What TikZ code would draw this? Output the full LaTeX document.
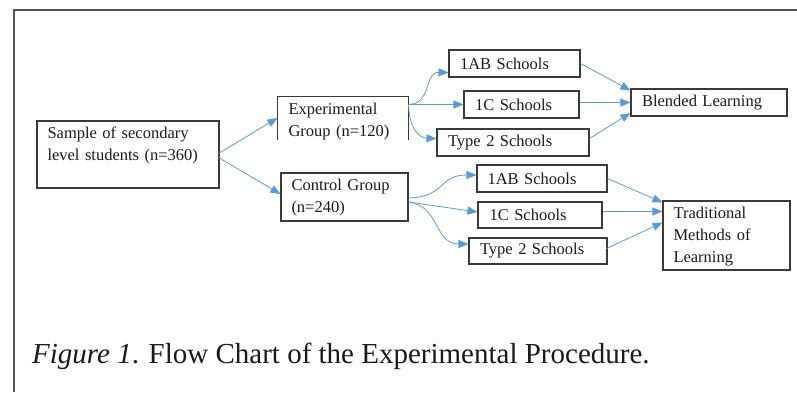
\documentclass[tikz,border=0pt]{standalone}
\usepackage{fontspec}
\setmainfont{Liberation Serif}
\usetikzlibrary{arrows.meta,calc}
\definecolor{boxc}{HTML}{3A3A3A}
\definecolor{framec}{HTML}{555555}
\definecolor{arrc}{HTML}{5B9BD5}
\definecolor{txt}{HTML}{1A1A1A}
\newcommand{\boxfont}{\fontsize{16.5pt}{22pt}\selectfont}
\newcommand{\capfont}{\fontsize{29pt}{34pt}\selectfont}
\tikzset{
  box/.style={draw=boxc, line width=1.05pt, inner xsep=10.5pt, inner ysep=0pt, align=left, font=\boxfont, text=txt},
  lbl/.style={inner xsep=0pt, inner ysep=0pt, align=left, font=\boxfont, text=txt},
  flow/.style={draw=arrc, line width=0.8pt, -{Triangle[length=10pt,width=8pt]}},
  frameline/.style={draw=framec, line width=1.5pt},
}
\begin{document}
\begin{tikzpicture}[x=1pt,y=-1pt]
\useasboundingbox (0,0) rectangle (797,392);
\draw[frameline] (14,392) -- (14,10) -- (797,10);

\node[box, minimum width=182pt, minimum height=67pt] (sample) at (128,154.5) {};
\node[lbl, text width=161pt] (sampletxt) at ($(sample.center)+(0,3)$) {Sample of secondary\\level students (n=360)\\\strut};

\node[box, draw=none, minimum width=130pt, minimum height=42pt] (exp) at (343,118) {};
\draw[draw=boxc, line width=1.05pt] (exp.south west) -- (exp.north west) -- (exp.north east) -- (exp.south east);
\node[lbl, text width=109pt] (exptxt) at ($(exp.center)+(0,3.5)$) {Experimental\\Group (n=120)};

\node[box, minimum width=127pt, minimum height=48pt] (ctrl) at (344.5,197) {};
\node[lbl, text width=106pt] (ctrltxt) at ($(ctrl.center)+(0,1)$) {Control Group\\(n=240)};

\node[box, minimum width=131pt, minimum height=27pt, text width=109pt] (e1ab) at (514.5,63.5) {1AB Schools};
\node[box, minimum width=115pt, minimum height=27pt, text width=93pt] (e1c) at (521.5,104.5) {1C Schools};
\node[box, minimum width=152pt, minimum height=27pt, text width=130pt] (e2) at (513,142.5) {Type 2 Schools};
\node[box, minimum width=156pt, minimum height=27pt, text width=134pt] (blend) at (709,102.5) {Blended Learning};

\node[box, minimum width=130pt, minimum height=27pt, text width=109pt] (c1ab) at (542,178.5) {1AB Schools};
\node[box, minimum width=124pt, minimum height=26pt, text width=101pt] (c1c) at (540,215) {1C Schools};
\node[box, minimum width=138pt, minimum height=26pt, text width=116pt] (c2) at (538,251) {Type 2 Schools};

\node[box, minimum width=127pt, minimum height=69pt] (trad) at (726.5,235.5) {};
\node[lbl, text width=106pt] (tradtxt) at ($(trad.center)+(0,1)$) {Traditional\\Methods of\\Learning};

% first level
\draw[flow] ($(sample.east)+(-1,-1)$) -- (exp.west);
\draw[flow] ($(sample.east)+(-1,3)$) -- ($(ctrl.west)+(0,-3)$);

% experimental branches
\coordinate (es) at ($(exp.north east)+(0,8)$);
\draw[flow] (es) .. controls (432,104) and (424,72) .. ($(e1ab.south west)+(0,-5)$);
\draw[flow] (es) -- (e1c.west |- es);
\draw[flow] (es) .. controls (409,126) and (418,138) .. ($(e2.west)+(0,-4)$);

% control branches
\coordinate (cs) at ($(ctrl.east)+(0,1)$);
\coordinate (cs2) at ($(ctrl.east)+(0,5)$);
\draw[flow] (cs) .. controls (446,197) and (438,175) .. ($(c1ab.west)+(0,-3.5)$);
\draw[flow] (cs2) -- ($(c1c.west)+(0,-3)$);
\draw[flow] (cs2) .. controls (440,206) and (434,244) .. ($(c2.west)+(0,-7)$);

% into blended
\draw[flow] (e1ab.east) -- ($(blend.west)+(0,-12)$);
\draw[flow] (e1c.east |- blend.west) -- (blend.west);
\draw[flow] ($(e2.east)+(0,-4)$) -- ($(blend.west)+(0,10.5)$);

% into traditional
\draw[flow] (c1ab.east) -- ($(trad.north west)+(0,2)$);
\draw[flow] (c1c.east |- trad.north west) ++(0,11) coordinate (t1) -- (trad.west |- t1);
\draw[flow] ($(c2.east)+(-2,-2)$) -- ($(trad.west)+(0,-13)$);

\node[anchor=base west, font=\capfont, text=txt, inner sep=0pt] (cap) at (32,363) {\textit{Figure 1}. Flow Chart of the Experimental Procedure.};
\end{tikzpicture}
\end{document}
